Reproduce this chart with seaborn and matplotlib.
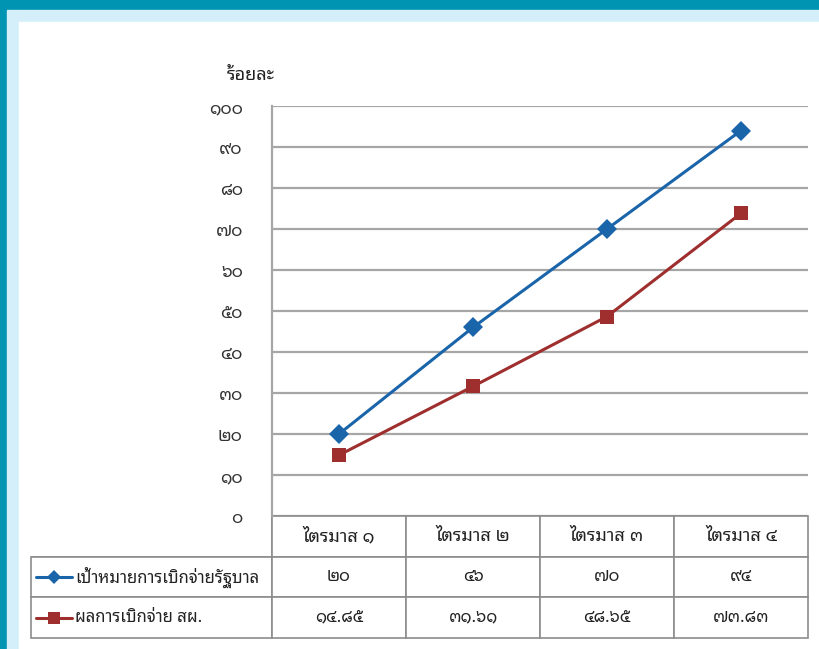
import pandas as pd
import seaborn as sns
import matplotlib
matplotlib.use('Agg')
import matplotlib.pyplot as plt
from matplotlib import font_manager
from matplotlib.ft2font import FT2Font
from matplotlib.patches import Rectangle
from matplotlib.lines import Line2D

# ข้อมูล
quarters = ['ไตรมาส ๑', 'ไตรมาส ๒', 'ไตรมาส ๓', 'ไตรมาส ๔']
series_names = ['เป้าหมายการเบิกจ่ายรัฐบาล', 'ผลการเบิกจ่าย สผ.']
target = [20, 46, 70, 94]
actual = [14.85, 31.61, 48.65, 73.83]
target_text = ['๒๐', '๔๖', '๗๐', '๙๔']
actual_text = ['๑๔.๘๕', '๓๑.๖๑', '๔๘.๖๕', '๗๓.๘๓']
yticks = [0, 10, 20, 30, 40, 50, 60, 70, 80, 90, 100]

thai_digits = str.maketrans('0123456789', '๐๑๒๓๔๕๖๗๘๙')


def find_thai_font():
    preferred = ['Noto Sans Thai Looped', 'Noto Sans Thai', 'Tahoma', 'Loma', 'Garuda']
    found = []
    for f in font_manager.fontManager.ttflist:
        try:
            cm = FT2Font(f.fname).get_charmap()
        except Exception:
            continue
        if 0x0E01 in cm and 0x0E51 in cm:
            found.append(f.name)
    for p in preferred:
        if p in found:
            return p
    return found[0] if found else 'DejaVu Sans'


df = pd.DataFrame({
    'quarter': quarters * 2,
    'value': target + actual,
    'series': [series_names[0]] * 4 + [series_names[1]] * 4,
})

blue = '#1a64aa'
red = '#9e2f2e'
grid_c = '#a6a6a6'

sns.set_style('white')
thai_font = find_thai_font()
plt.rcParams['font.family'] = [thai_font, 'DejaVu Sans']

fig = plt.figure(figsize=(8.19, 6.49), dpi=100)
W, H = 819, 649

# กรอบพื้นหลัง
fig.patches.append(Rectangle((0, 0), 1, 1, transform=fig.transFigure, color='#0094b3', zorder=-3))
fig.patches.append(Rectangle((7 / W, 0), 1, 1 - 10 / H, transform=fig.transFigure, color='#d4effa', zorder=-2))
fig.patches.append(Rectangle((19 / W, 0), 1, 1 - 22 / H, transform=fig.transFigure, color='white', zorder=-1))
fig.patch.set_alpha(0)

ax = fig.add_axes([272 / W, 1 - 516 / H, (808 - 272) / W, (516 - 106) / H])
ax.patch.set_alpha(0)

sns.lineplot(data=df, x='quarter', y='value', hue='series', style='series',
             markers={series_names[0]: 'D', series_names[1]: 's'}, dashes=False,
             palette={series_names[0]: blue, series_names[1]: red},
             linewidth=2.2, markersize=10, markeredgewidth=0, legend=False,
             sort=False, ax=ax)
# สี่เหลี่ยมใหญ่กว่าข้าวหลามตัดเล็กน้อย
for ln in ax.lines:
    if ln.get_marker() == 's':
        ln.set_markersize(10.5)

ax.set_xlim(-0.5, 3.5)
ax.set_ylim(0, 100)
ax.set_yticks(yticks)
ax.set_yticklabels([str(v).translate(thai_digits) for v in yticks], fontsize=12.5, color='#333333')
ax.set_xticks([])
ax.set_xlabel('')
ax.set_ylabel('')
ax.tick_params(axis='y', length=0, pad=21)
for y in yticks:
    ax.axhline(y, color=grid_c, linewidth=1.6, zorder=0)
for s in ['top', 'right', 'bottom']:
    ax.spines[s].set_visible(False)
ax.spines['left'].set_color(grid_c)
ax.spines['left'].set_linewidth(1.6)

ax.text(-0.04, 1.075, 'ร้อยละ', transform=ax.transAxes, ha='center', va='center',
        fontsize=13, color='#222222')

# ตารางข้อมูล
cells = [[''] + quarters,
         [series_names[0]] + target_text,
         [series_names[1]] + actual_text]
label_w = 272 - 31
col_w = (808 - 272) / 4
tbl = ax.table(cellText=cells, cellLoc='center',
               colWidths=[label_w] + [col_w] * 4,
               bbox=[(31 - 272) / 536, (516 - 638) / 410, (808 - 31) / 536, 122 / 410])
tbl.auto_set_font_size(False)
tbl.set_fontsize(12)
for (r, c), cell in tbl.get_celld().items():
    cell.set_edgecolor('#8c8c8c')
    cell.set_linewidth(1.2)
    cell.get_text().set_color('#222222')
    if r == 0:
        cell.get_text().set_fontsize(13)
    if c == 0:
        cell._loc = 'left'
        cell.get_text().set_ha('left')
        cell.PAD = 44 / label_w
    if r == 0 and c == 0:
        cell.visible_edges = 'BR'

# สัญลักษณ์คำอธิบายในตาราง
for i, (col, mk) in enumerate([(blue, 'D'), (red, 's')]):
    yy = (516 - 577 - i * 41) / 410
    ax.add_line(Line2D([(36 - 272) / 536, (72 - 272) / 536], [yy, yy], transform=ax.transAxes,
                       color=col, linewidth=2.2, clip_on=False))
    ax.add_line(Line2D([(54 - 272) / 536], [yy], transform=ax.transAxes, color=col,
                       marker=mk, markersize=7 if mk == 'D' else 9, markeredgewidth=0, clip_on=False))

plt.savefig('out.png', dpi=100)
